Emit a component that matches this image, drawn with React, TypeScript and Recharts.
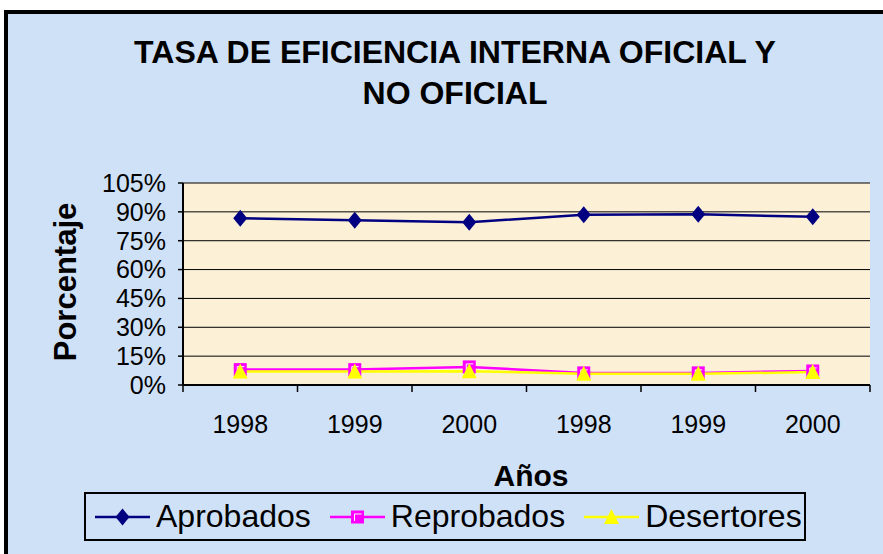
import { LineChart, Line, XAxis, YAxis, CartesianGrid, Legend } from "recharts";

const years = ["1998", "1999", "2000", "1998", "1999", "2000"];
const aprobados = [86.7, 85.6, 84.6, 88.5, 88.7, 87.5];
const reprobados = [8.0, 8.0, 9.4, 6.3, 6.3, 7.3];
const desertores = [7.0, 7.0, 7.2, 5.8, 5.8, 6.7];
const yTicks = [0, 15, 30, 45, 60, 75, 90, 105];
const seriesOrder = ["Aprobados", "Reprobados", "Desertores"];

const FONT = '"Liberation Sans", Arial, sans-serif';

const data = years.map((year, i) => ({
  pos: i + 0.5,
  year,
  Aprobados: aprobados[i],
  Reprobados: reprobados[i],
  Desertores: desertores[i],
}));

const boundaryTicks = years.map((_, i) => i).concat(years.length);
const centerTicks = years.map((_, i) => i + 0.5);

const Diamond = ({ cx, cy }: any) => (
  <path d={`M${cx},${cy - 8.5} L${cx + 7},${cy} L${cx},${cy + 8.5} L${cx - 7},${cy} Z`} fill="#000080" />
);

const Square = ({ cx, cy }: any) => (
  <g>
    <rect x={cx - 6.5} y={cy - 6.5} width={13} height={13} fill="#ff00ff" />
    <path d={`M${cx - 3},${cy + 4} V${cy - 3} H${cx + 4}`} stroke="#ffffff" strokeWidth={1} fill="none" />
  </g>
);

const Triangle = ({ cx, cy }: any) => (
  <path d={`M${cx},${cy - 8} L${cx + 7.5},${cy + 7} L${cx - 7.5},${cy + 7} Z`} fill="#ffff00" />
);

const markers: Record<string, any> = { Aprobados: Diamond, Reprobados: Square, Desertores: Triangle };

const LegendBox = ({ payload }: any) => {
  const items = [...(payload || [])].sort(
    (a: any, b: any) => seriesOrder.indexOf(a.dataKey) - seriesOrder.indexOf(b.dataKey)
  );
  return (
    <div
      style={{
        width: 722,
        height: 49,
        boxSizing: "border-box",
        border: "2px solid #000",
        display: "flex",
        alignItems: "center",
        paddingLeft: 9,
        fontFamily: FONT,
        fontSize: 32,
        color: "#000",
      }}
    >
      {items.map((p: any) => {
        const M = markers[p.dataKey];
        return (
          <div key={p.dataKey} style={{ display: "flex", alignItems: "center", marginRight: 19 }}>
            <svg width={55} height={24} style={{ marginRight: 6 }}>
              <line x1={0} y1={12} x2={55} y2={12} stroke={p.color} strokeWidth={2.5} />
              <M cx={27.5} cy={12} />
            </svg>
            <span>{p.value}</span>
          </div>
        );
      })}
    </div>
  );
};

export default function App() {
  return (
    <div
      style={{
        position: "absolute",
        left: 0,
        top: 0,
        width: 883,
        height: 554,
        overflow: "hidden",
        background: "#fff",
        fontFamily: FONT,
      }}
    >
      <div
        style={{
          position: "absolute",
          left: 4,
          top: 10,
          width: 900,
          height: 560,
          borderLeft: "4px solid #000",
          borderTop: "4px solid #000",
          background: "#cfe1f7",
        }}
      />
      <div
        style={{
          position: "absolute",
          left: 0,
          top: 32,
          width: 910,
          textAlign: "center",
          fontSize: 32,
          fontWeight: "bold",
          lineHeight: "41px",
        }}
      >
        TASA DE EFICIENCIA INTERNA OFICIAL Y
        <br />
        NO OFICIAL
      </div>
      <div
        style={{
          position: "absolute",
          left: 66 - 100,
          top: 282 - 18,
          width: 200,
          height: 36,
          lineHeight: "36px",
          textAlign: "center",
          fontSize: 31,
          fontWeight: "bold",
          transform: "rotate(-90deg)",
        }}
      >
        Porcentaje
      </div>
      <div
        style={{
          position: "absolute",
          left: 531 - 100,
          top: 476 - 18,
          width: 200,
          lineHeight: "36px",
          textAlign: "center",
          fontSize: 30,
          fontWeight: "bold",
        }}
      >
        Años
      </div>
      <LineChart
        width={883}
        height={554}
        data={data}
        margin={{ top: 183, right: 13, left: 0, bottom: 50 }}
        style={{ position: "absolute", left: 0, top: 0 }}
      >
        <CartesianGrid vertical={false} stroke="#000" strokeWidth={1} fill="#fcf0d7" fillOpacity={1} />
        <XAxis
          dataKey="pos"
          type="number"
          domain={[0, years.length]}
          ticks={boundaryTicks}
          tickFormatter={() => ""}
          tickSize={7}
          height={10}
          axisLine={{ stroke: "#000", strokeWidth: 2 }}
          tickLine={{ stroke: "#000", strokeWidth: 1.5 }}
        />
        <XAxis
          xAxisId="lbl"
          dataKey="pos"
          type="number"
          domain={[0, years.length]}
          ticks={centerTicks}
          tickFormatter={(v: number) => years[Math.floor(v)]}
          axisLine={false}
          tickLine={false}
          tickSize={0}
          tickMargin={20}
          height={60}
          tick={{ fill: "#000", fontSize: 25, fontFamily: FONT }}
        />
        <YAxis
          domain={[0, 105]}
          ticks={yTicks}
          interval={0}
          tickFormatter={(v: number) => `${v}%`}
          width={183}
          tickSize={5}
          tickMargin={12}
          axisLine={{ stroke: "#000", strokeWidth: 2 }}
          tickLine={{ stroke: "#000", strokeWidth: 1.5 }}
          tick={{ fill: "#000", fontSize: 25, fontFamily: FONT }}
        />
        <YAxis
          yAxisId="r"
          orientation="right"
          domain={[0, 105]}
          width={0}
          tick={false}
          tickLine={false}
          axisLine={{ stroke: "#000", strokeWidth: 2 }}
        />
        <Legend
          content={<LegendBox />}
          wrapperStyle={{ position: "absolute", left: 84, top: 492, width: 722, height: 49 }}
        />
        <Line
          dataKey="Aprobados"
          stroke="#000080"
          strokeWidth={2.5}
          dot={(p: any) => <Diamond key={p.index} cx={p.cx} cy={p.cy} />}
          activeDot={false}
          isAnimationActive={false}
        />
        <Line
          dataKey="Reprobados"
          stroke="#ff00ff"
          strokeWidth={2.5}
          dot={(p: any) => <Square key={p.index} cx={p.cx} cy={p.cy} />}
          activeDot={false}
          isAnimationActive={false}
        />
        <Line
          dataKey="Desertores"
          stroke="#ffff00"
          strokeWidth={2.5}
          dot={(p: any) => <Triangle key={p.index} cx={p.cx} cy={p.cy} />}
          activeDot={false}
          isAnimationActive={false}
        />
      </LineChart>
    </div>
  );
}
